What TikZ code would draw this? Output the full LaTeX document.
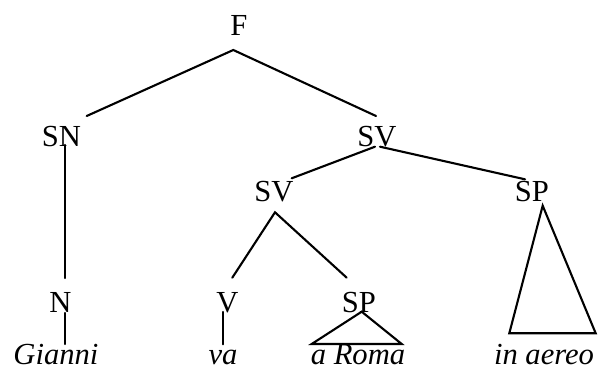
\documentclass[tikz,border=0pt]{standalone}
\usepackage{fontspec}
\setmainfont{Liberation Serif}
\begin{document}
\begin{tikzpicture}[x=0.5pt,y=-0.5pt,
  lbl/.style={inner sep=0pt,anchor=base,font=\fontsize{15.3}{18}\selectfont},
  word/.style={lbl,font=\fontsize{15.3}{18}\selectfont\itshape},
  edge/.style={line width=1.05pt,line cap=round,line join=miter}]
\useasboundingbox (0,0) rectangle (602,369);
% labels
\node[lbl] (F) at (239,36) {F};
\node[lbl] (SN) at (61.5,147) {SN};
\node[lbl] (SV1) at (377,147) {SV};
\node[lbl] (SV2) at (274,202) {SV};
\node[lbl] (SPb) at (532,202) {SP};
\node[lbl] (N) at (60.5,313) {N};
\node[lbl] (V) at (227.5,313) {V};
\node[lbl] (SPs) at (359,313) {SP};
\node[word] (Gianni) at (56,364.5) {Gianni};
\node[word] (va) at (223,364.5) {va};
\node[word] (Roma) at (358,364.5) {a Roma};
\node[word] (aereo) at (544,364.5) {in aereo};
% connector end points
\coordinate (F-apex) at (233.3,50);
\coordinate (SN-top) at (86.7,116);
\coordinate (SV1-top) at (376,116);
\coordinate (SN-bot) at (65,145);
\coordinate (N-top) at (65,278);
\coordinate (SV1-botl) at (375,146.7);
\coordinate (SV1-botr) at (380,146.7);
\coordinate (SV2-top) at (291.7,178.3);
\coordinate (SPb-top) at (525,179.3);
\coordinate (SV2-apex) at (275,212.3);
\coordinate (V-top) at (232.3,277.7);
\coordinate (SPs-top) at (346.7,277.7);
\coordinate (N-bot) at (65,313);
\coordinate (Gianni-top) at (65,344);
\coordinate (V-bot) at (222.7,312);
\coordinate (va-top) at (222.7,344.3);
\coordinate (SPs-apex) at (361.7,311.7);
\coordinate (Roma-l) at (311.7,344);
\coordinate (Roma-r) at (401.7,344);
\coordinate (SPb-apex) at (542.7,205.7);
\coordinate (aereo-l) at (509.3,333.3);
\coordinate (aereo-r) at (595.7,333.3);
% connectors
\draw[edge] (SN-top) -- (F-apex) -- (SV1-top);
\draw[edge] (SN-bot) -- (N-top);
\draw[edge] (SV2-top) -- (SV1-botl);
\draw[edge] (SV1-botr) -- (SPb-top);
\draw[edge] (V-top) -- (SV2-apex) -- (SPs-top);
\draw[edge] (N-bot) -- (Gianni-top);
\draw[edge] (V-bot) -- (va-top);
\draw[edge] (SPs-apex) -- (Roma-l) -- (Roma-r) -- cycle;
\draw[edge] (SPb-apex) -- (aereo-l) -- (aereo-r) -- cycle;
\end{tikzpicture}
\end{document}
